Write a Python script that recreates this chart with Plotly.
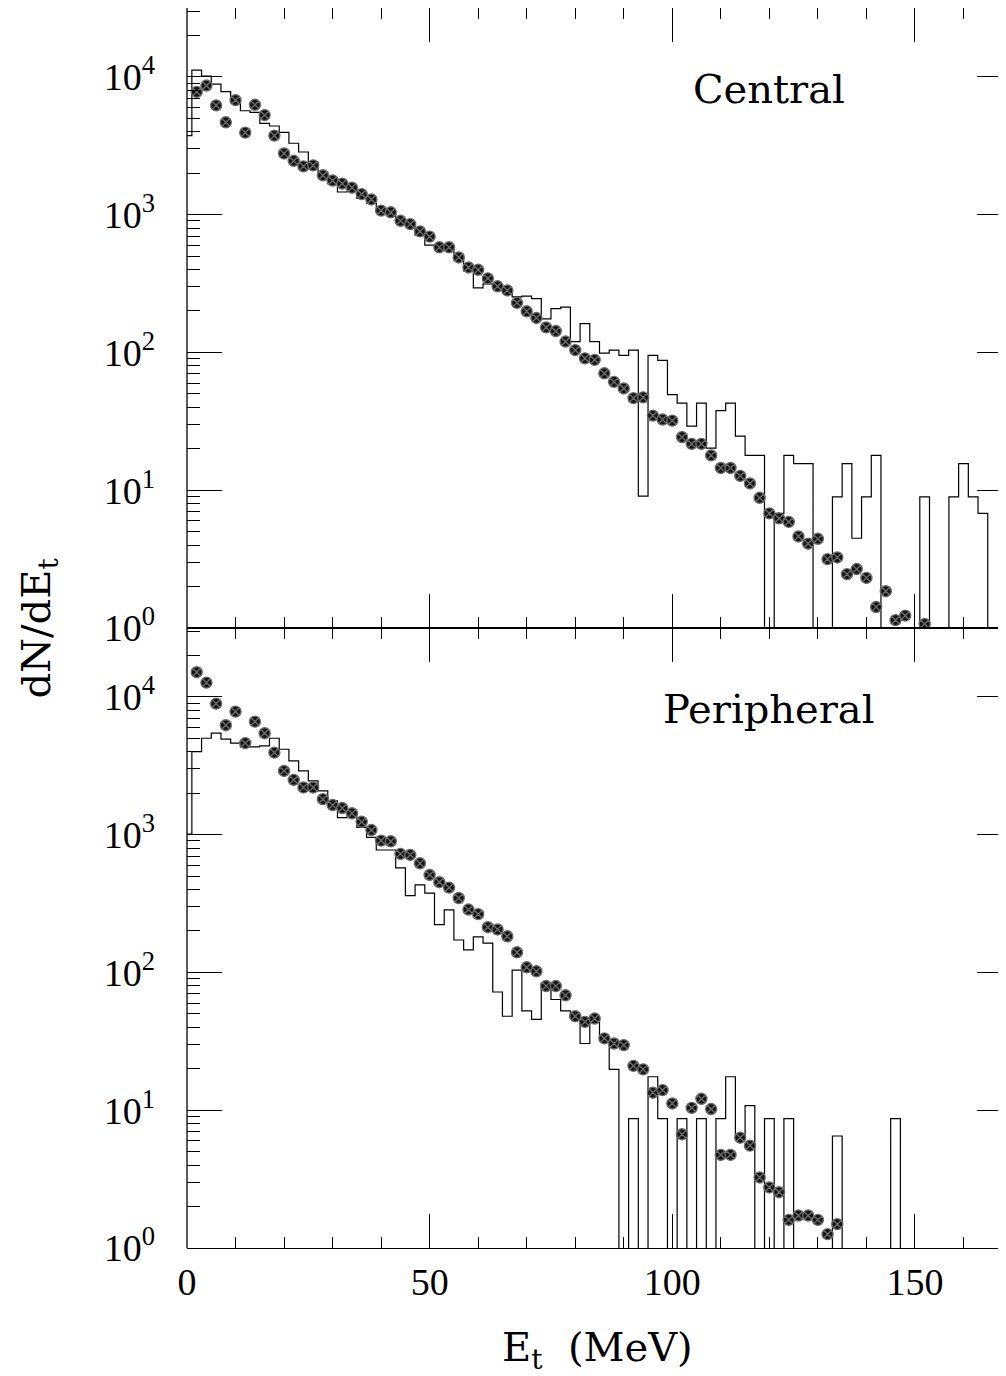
import plotly.graph_objects as go

# ---------------- data ----------------
# Central: data points (bin centres, MeV) and values
central_pts_x = [2, 4, 6, 8, 10, 12, 14, 16, 18, 20, 22, 24, 26, 28, 30, 32, 34, 36, 38, 40,
                 42, 44, 46, 48, 50, 52, 54, 56, 58, 60, 62, 64, 66, 68, 70, 72, 74, 76, 78, 80,
                 82, 84, 86, 88, 90, 92, 94, 96, 98, 100, 102, 104, 106, 108, 110, 112, 114, 116,
                 118, 120, 122, 124, 126, 128, 130, 132, 134, 136, 138, 140, 142, 144, 146, 148, 152]
central_pts_y = [7780, 8650, 6210, 4680, 6780, 3940, 6270, 5280, 3750, 2780, 2460, 2240, 2280, 1930,
                 1770, 1680, 1570, 1410, 1290, 1070, 1040, 903, 854, 756, 693, 580, 580, 489, 414, 398,
                 345, 302, 282, 229, 199, 178, 152, 143, 120, 104, 90.6, 88.3, 70.6, 61.2, 54.8, 46.6,
                 47.2, 34.8, 32.6, 32.0, 24.3, 21.7, 21.7, 17.9, 14.5, 14.5, 12.7, 11.2, 8.81, 6.79,
                 6.25, 5.89, 4.62, 4.09, 4.44, 3.16, 3.25, 2.46, 2.68, 2.31, 1.42, 1.85, 1.14, 1.23, 1.07]

# Central: histogram (2 MeV bins, centres 0..168)
central_hist_x = list(range(0, 170, 2))
central_hist_y = [3750, 11200, 10150, 8850, 7830, 6700, 5680, 5520, 4600, 4400, 3960, 3300, 2850, 2410,
                  2040, 1680, 1460, 1500, 1310, 1210, 1050, 1020, 865, 818, 711, 602, 580, 580, 470, 390,
                  294, 315, 300, 282, 253, 256, 246, 175, 208, 213, 120, 162, 120, 99, 104, 95.3, 104,
                  9.06, 95.3, 87.7, 49.4, 42.9, 29.2, 42.9, 20.2, 37.8, 42.9, 24.7, 17.9, 17.9, 0, 6.8,
                  17.9, 15.6, 15.6, 0, 0, 8.96, 15.6, 4.48, 8.96, 17.9, 0, 0, 0, 0, 8.96, 0, 0, 8.96,
                  15.6, 8.96, 6.8, 0, 0]

# Peripheral: data points
periph_pts_x = [2, 4, 6, 8, 10, 12, 14, 16, 18, 20, 22, 24, 26, 28, 30, 32, 34, 36, 38, 40,
                42, 44, 46, 48, 50, 52, 54, 56, 58, 60, 62, 64, 66, 68, 70, 72, 74, 76, 78, 80,
                82, 84, 86, 88, 90, 92, 94, 96, 98, 100, 102, 104, 106, 108, 110, 112, 114, 116,
                118, 120, 122, 124, 126, 128, 130, 132, 134]
periph_pts_y = [15100, 12700, 8930, 6230, 7820, 4620, 6610, 5450, 3940, 2900, 2500, 2200, 2200, 1810,
                1640, 1560, 1430, 1240, 1080, 905, 895, 725, 713, 620, 510, 452, 413, 347, 286, 265,
                213, 205, 183, 140, 109, 102, 79.7, 79.7, 68.3, 48.1, 43.8, 46.3, 33.2, 30.5, 29.7,
                21.0, 19.8, 13.4, 14.0, 11.2, 6.69, 10.4, 12.1, 10.2, 4.74, 4.74, 6.32, 5.53, 3.25,
                2.75, 2.54, 1.60, 1.72, 1.72, 1.60, 1.26, 1.49]

# Peripheral: histogram
periph_hist_x = list(range(0, 170, 2))
periph_hist_y = [1010, 4010, 5010, 5450, 4930, 4610, 4340, 4340, 4410, 5010, 4170, 3430, 2900, 2460,
                 2080, 1760, 1330, 1430, 1130, 956, 774, 774, 574, 361, 432, 376, 222, 285, 172, 146,
                 181, 163, 72.1, 48.1, 104, 52.6, 45.7, 83, 63.6, 52.6, 47.5, 30.5, 46.3, 34.1, 19.8,
                 0, 8.7, 0, 17.5, 8.7, 0, 8.7, 0, 8.7, 0, 8.7, 17.5, 6.5, 10.8, 0, 8.7, 0, 8.7, 0, 0,
                 0, 0, 6.5, 0, 0, 0, 0, 0, 8.7, 0, 0, 0, 0, 0, 0, 0, 0, 0, 0, 0]

x_major_ticks = [0, 50, 100, 150]
x_tick_labels = ["0", "50", "100", "150"]
y_major_ticks = [1, 10, 100, 1000, 10000]
y_tick_labels = ["10<sup>0</sup>", "10<sup>1</sup>", "10<sup>2</sup>", "10<sup>3</sup>", "10<sup>4</sup>"]

# empty bins are drawn down past the axis (log scale cannot show 0)
FLOOR = 1e-3
def floor_zero(vals):
    return [v if v > 0 else FLOOR for v in vals]

# ---------------- figure ----------------
fig = go.Figure()

hist_line = dict(color="black", width=1.2, shape="hvh")
pt_marker = dict(symbol="circle-x", size=11, color="#141414",
                 line=dict(color="#6a6a6a", width=1.4))

fig.add_trace(go.Scatter(x=central_hist_x, y=floor_zero(central_hist_y), mode="lines",
                         line=hist_line, xaxis="x", yaxis="y", showlegend=False, hoverinfo="skip"))
fig.add_trace(go.Scatter(x=central_pts_x, y=central_pts_y, mode="markers", marker=pt_marker,
                         xaxis="x", yaxis="y", showlegend=False))
fig.add_trace(go.Scatter(x=periph_hist_x, y=floor_zero(periph_hist_y), mode="lines",
                         line=hist_line, xaxis="x2", yaxis="y2", showlegend=False, hoverinfo="skip"))
fig.add_trace(go.Scatter(x=periph_pts_x, y=periph_pts_y, mode="markers", marker=pt_marker,
                         xaxis="x2", yaxis="y2", showlegend=False))

tick_font = dict(family="Liberation Serif", size=38, color="black")
label_font = dict(family="DejaVu Serif", size=40, color="black")

y_minor_vals = [k * 10 ** d for d in range(0, 5) for k in range(2, 10)]

def xaxis_cfg(show_labels, anchor):
    return dict(
        anchor=anchor, domain=[0, 1], range=[0, 170], automargin=False,
        showline=True, linecolor="black", linewidth=1.3, mirror="ticks",
        ticks="inside", tickmode="array", tickvals=x_major_ticks, ticktext=x_tick_labels,
        ticklen=34, tickwidth=1.2, tickcolor="black",
        minor=dict(tickmode="linear", tick0=0, dtick=10, ticks="inside", ticklen=11,
                   tickwidth=1.2, tickcolor="black", showgrid=False),
        showticklabels=show_labels, tickfont=tick_font, ticklabelstandoff=0,
        showgrid=False, zeroline=False,
    )

def yaxis_cfg(domain, anchor):
    return dict(
        anchor=anchor, domain=domain, type="log", range=[0, 4.5], automargin=False,
        showline=False, mirror="ticks",
        ticks="inside", tickmode="array", tickvals=y_major_ticks, ticktext=y_tick_labels,
        ticklen=35, tickwidth=1.2, tickcolor="black",
        minor=dict(tickmode="array", tickvals=y_minor_vals, ticks="inside", ticklen=12.5,
                   tickwidth=1.2, tickcolor="black", showgrid=False),
        tickfont=tick_font, ticklabelstandoff=31,
        showgrid=False, zeroline=False,
    )

fig.update_layout(
    width=1006, height=1376,
    margin=dict(l=179, r=2, t=0, b=136, autoexpand=False),
    paper_bgcolor="white", plot_bgcolor="white",
    xaxis=xaxis_cfg(False, "y"),
    yaxis=yaxis_cfg([0.5, 1], "x"),
    xaxis2=xaxis_cfg(True, "y2"),
    yaxis2=yaxis_cfg([0, 0.5], "x2"),
    shapes=[dict(type="line", xref="paper", yref="paper", x0=0, x1=0, y0=0, y1=1,
                 line=dict(color="black", width=1.3))],
    annotations=[
        dict(text="Central", x=120, y=3.91, xref="x", yref="y", showarrow=False,
             xanchor="center", yanchor="middle", font=label_font),
        dict(text="Peripheral", x=120, y=3.91, xref="x2", yref="y2", showarrow=False,
             xanchor="center", yanchor="middle", font=label_font),
        dict(text="dN/dE<sub>t</sub>", x=-0.18, y=0.5, xref="paper", yref="paper",
             showarrow=False, textangle=-90, xanchor="center", yanchor="middle",
             font=label_font),
        dict(text="E<sub>t</sub>  (MeV)", x=0.497, y=-0.0823, xref="paper", yref="paper",
             showarrow=False, xanchor="center", yanchor="middle", font=label_font),
    ],
)

fig.write_html("out.html")
